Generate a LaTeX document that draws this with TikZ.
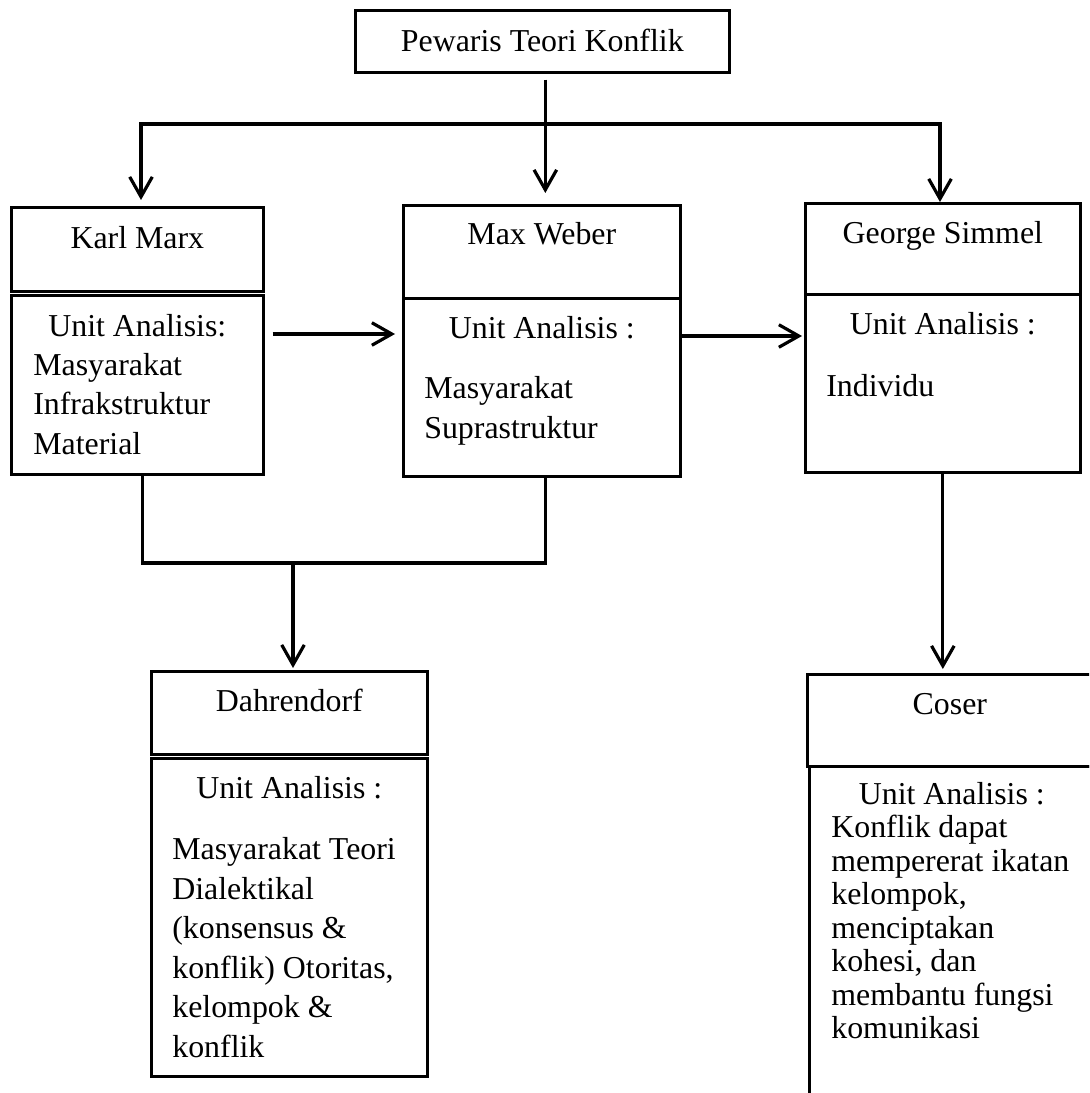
\documentclass[tikz,border=0pt]{standalone}
\usepackage{fontspec}
\setmainfont{Liberation Serif}
\usepackage{tikz}
\usetikzlibrary{arrows.meta}
\newlength{\px}
\setlength{\px}{0.3765pt}

\begin{document}
\begin{tikzpicture}[
    x=0.3765pt, y=-0.3765pt,
    >={Straight Barb[length=7.5pt, width=8.5pt]},
    head/.style={draw, line width=1pt, anchor=north west, inner sep=0pt, font=\fontsize{12}{14}\selectfont},
    body/.style={head, font=\fontsize{12}{#1}\selectfont},
    link/.style={line width=1.2pt},
    arrow/.style={link, ->}
]
\useasboundingbox (0,0) rectangle (1089,1093);
\clip (0,0) rectangle (1089,1093);

\node[head, minimum width=374\px, text height=41\px, text depth=21\px] (pewaris) at (354,9) {Pewaris Teori Konflik};

\node[head, minimum width=252\px, text height=41\px, text depth=43\px] (marxh) at (10,206) {Karl Marx};
\node[body=14.8, minimum width=252\px, text height=41\px, text depth=138\px] (marxb) at (10,294)
    {\parbox[t]{252\px}{{\centering Unit Analisis:\par}\leftskip=22\px Masyarakat\\Infrakstruktur\\Material\par}};

\node[head, minimum width=277\px, text height=39\px, text depth=54\px] (weberh) at (402,204) {Max Weber};
\node[body=15.06, minimum width=277\px, text height=40\px, text depth=138\px] (weberb) at (402,297)
    {\parbox[t]{277\px}{{\centering Unit Analisis :\par}\vspace{7.5pt}\leftskip=21\px Masyarakat\\Suprastruktur\par}};

\node[head, minimum width=275\px, text height=40\px, text depth=51\px] (simmelh) at (804,202) {George Simmel};
\node[body=15.06, minimum width=275\px, text height=40\px, text depth=138\px] (simmelb) at (804,293)
    {\parbox[t]{275\px}{{\centering Unit Analisis :\par}\vspace{8.3pt}\leftskip=21\px Individu\par}};

\node[head, minimum width=276\px, text height=40\px, text depth=43\px] (dahrh) at (150,670) {Dahrendorf};
\node[body=14.9, minimum width=276\px, text height=40\px, text depth=278\px] (dahrb) at (150,757)
    {\parbox[t]{276\px}{{\centering Unit Analisis :\par}\vspace{8.1pt}\leftskip=21\px Masyarakat Teori\\Dialektikal\\(konsensus \&\\konflik) Otoritas,\\kelompok \&\\konflik\par}};

\node[head, minimum width=285\px, text height=40\px, text depth=52\px] (coserh) at (806,673) {Coser};
\node[body=12.6, minimum width=285\px, text height=38\px, text depth=320\px] (coserb) at (808,765)
    {\parbox[t]{285\px}{{\centering Unit Analisis :\par}\leftskip=22\px Konflik dapat\\mempererat ikatan\\kelompok,\\menciptakan\\kohesi, dan\\membantu fungsi\\komunikasi\par}};

\coordinate (barL) at (141,124);
\coordinate (barR) at (940,124);
\coordinate (merge) at (293,563);

\draw[arrow] ([shift={(3,6)}]pewaris.south) -- ([shift={(3.5,-11)}]weberh.north);
\draw[link, <->, shorten <=6\px] (barL |- marxh.north) -- (barL) -- (barR) -- (barR |- simmelh.north);
\draw[arrow] ([shift={(8,40)}]marxb.north east) -- ([shift={(-7,37)}]weberb.north west);
\draw[arrow] ([shift={(-2,39)}]weberb.north east) -- ([shift={(-2,43)}]simmelb.north west);
\draw[link] ([xshift=5\px]marxb.south) |- (merge) -| ([xshift=3.5\px]weberb.south);
\draw[arrow, shorten >=2\px] (merge) -- (merge |- dahrh.north);
\draw[arrow, shorten >=4\px] (simmelb.south) -- (simmelb.south |- coserh.north);
\end{tikzpicture}
\end{document}
